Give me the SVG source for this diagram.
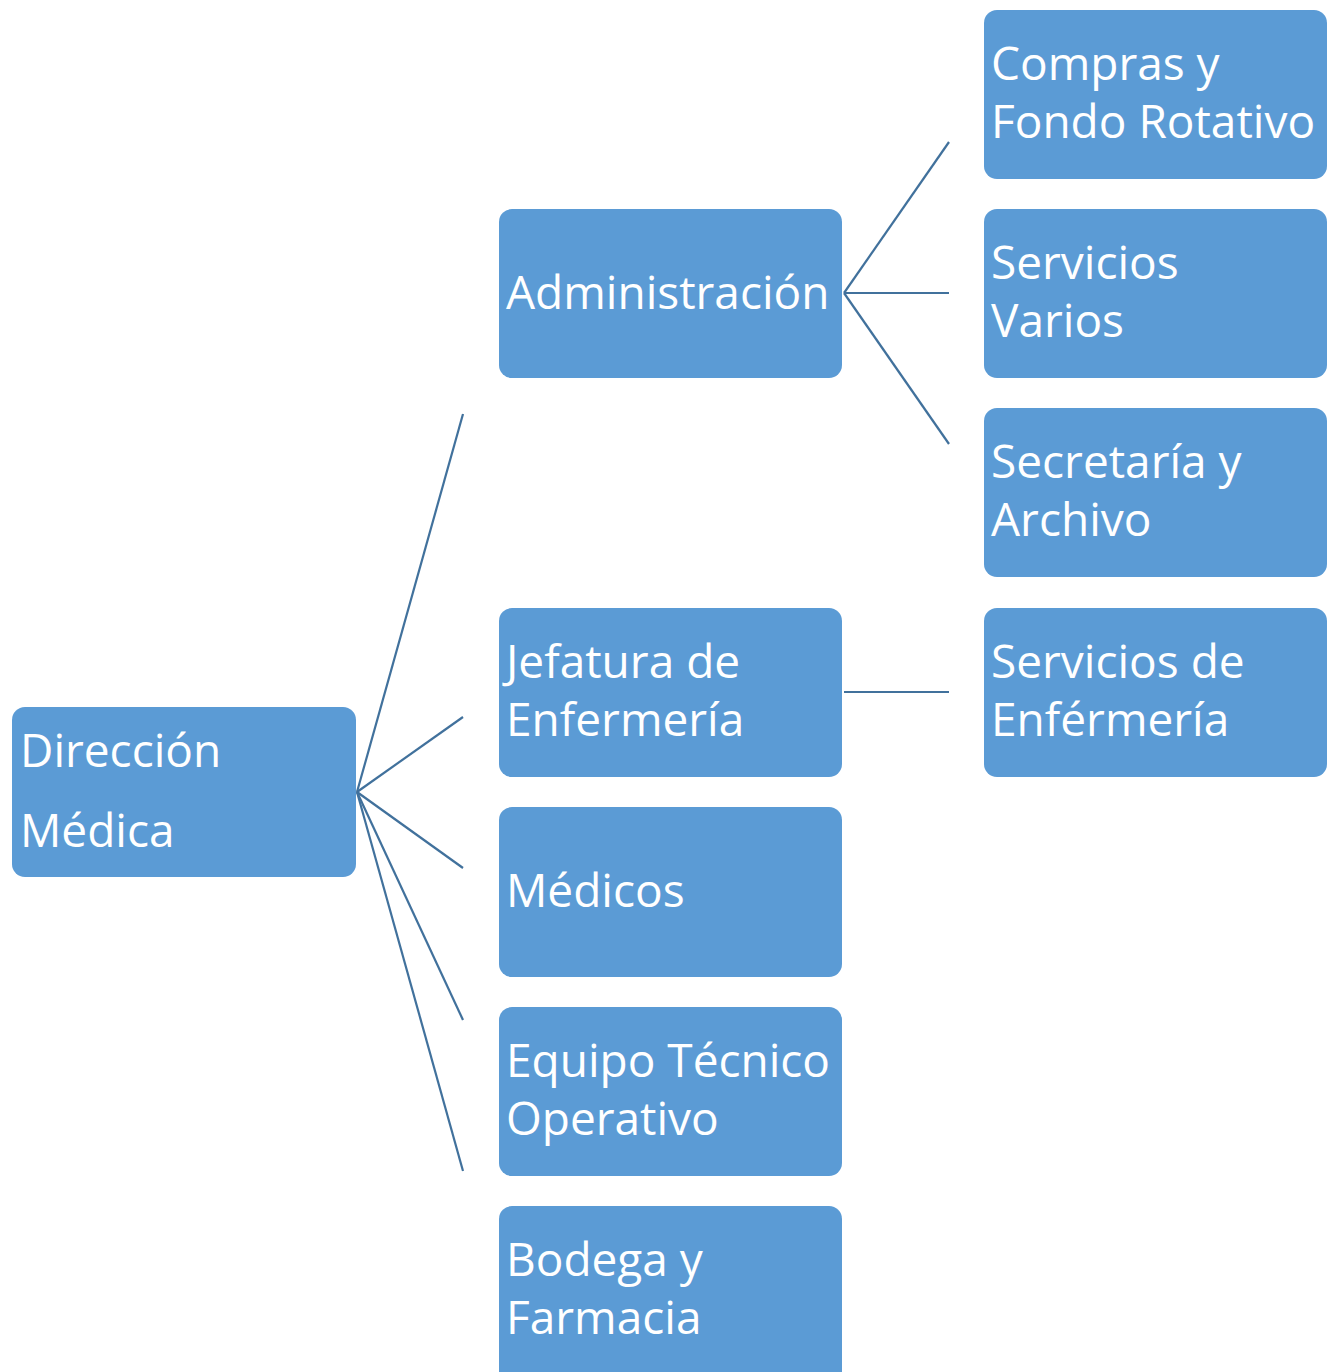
<svg xmlns="http://www.w3.org/2000/svg" width="1334" height="1372" viewBox="0 0 1334 1372">
  <style>
    .box { fill: #5B9BD5; }
    .lbl { fill: #FFFFFF; font-family: "Open Sans", "Noto Sans", sans-serif; font-size: 46px; }
    .link { stroke: #41719C; stroke-width: 2.2; fill: none; }
  </style>
  <rect width="1334" height="1372" fill="#FFFFFF"/>

  <!-- connectors -->
  <g id="connectors">
    <line class="link" x1="357" y1="792" x2="463" y2="414"/>
    <line class="link" x1="357" y1="792" x2="463" y2="717"/>
    <line class="link" x1="357" y1="792" x2="463" y2="868"/>
    <line class="link" x1="357" y1="792" x2="463" y2="1020"/>
    <line class="link" x1="357" y1="792" x2="463" y2="1171"/>
    <line class="link" x1="844" y1="293" x2="949" y2="142"/>
    <line class="link" x1="844" y1="293" x2="949" y2="293"/>
    <line class="link" x1="844" y1="293" x2="949" y2="444"/>
    <line class="link" x1="844" y1="692" x2="949" y2="692"/>
  </g>

  <!-- root -->
  <g id="direccion-medica">
    <rect class="box" x="12" y="707" width="344" height="170" rx="13"/>
    <text class="lbl" x="20" y="767">Dirección</text>
    <text class="lbl" x="20" y="847">Médica</text>
  </g>

  <!-- second level -->
  <g id="administracion">
    <rect class="box" x="499" y="209" width="343" height="169" rx="13"/>
    <text class="lbl" x="506" y="309">Administración</text>
  </g>
  <g id="jefatura-enfermeria">
    <rect class="box" x="499" y="608" width="343" height="169" rx="13"/>
    <text class="lbl" x="506" y="678">Jefatura de</text>
    <text class="lbl" x="506" y="736">Enfermería</text>
  </g>
  <g id="medicos">
    <rect class="box" x="499" y="807" width="343" height="170" rx="13"/>
    <text class="lbl" x="506" y="907">Médicos</text>
  </g>
  <g id="equipo-tecnico">
    <rect class="box" x="499" y="1007" width="343" height="169" rx="13"/>
    <text class="lbl" x="506" y="1077">Equipo Técnico</text>
    <text class="lbl" x="506" y="1135">Operativo</text>
  </g>
  <g id="bodega-farmacia">
    <rect class="box" x="499" y="1206" width="343" height="190" rx="13"/>
    <text class="lbl" x="506" y="1276">Bodega y</text>
    <text class="lbl" x="506" y="1334">Farmacia</text>
  </g>

  <!-- third level -->
  <g id="compras">
    <rect class="box" x="984" y="10" width="343" height="169" rx="13"/>
    <text class="lbl" x="991" y="80">Compras y</text>
    <text class="lbl" x="991" y="138">Fondo Rotativo</text>
  </g>
  <g id="servicios-varios">
    <rect class="box" x="984" y="209" width="343" height="169" rx="13"/>
    <text class="lbl" x="991" y="279">Servicios</text>
    <text class="lbl" x="991" y="337">Varios</text>
  </g>
  <g id="secretaria">
    <rect class="box" x="984" y="408" width="343" height="169" rx="13"/>
    <text class="lbl" x="991" y="478">Secretaría y</text>
    <text class="lbl" x="991" y="536">Archivo</text>
  </g>
  <g id="servicios-enfermeria">
    <rect class="box" x="984" y="608" width="343" height="169" rx="13"/>
    <text class="lbl" x="991" y="678">Servicios de</text>
    <text class="lbl" x="991" y="736">Enférmería</text>
  </g>
</svg>
